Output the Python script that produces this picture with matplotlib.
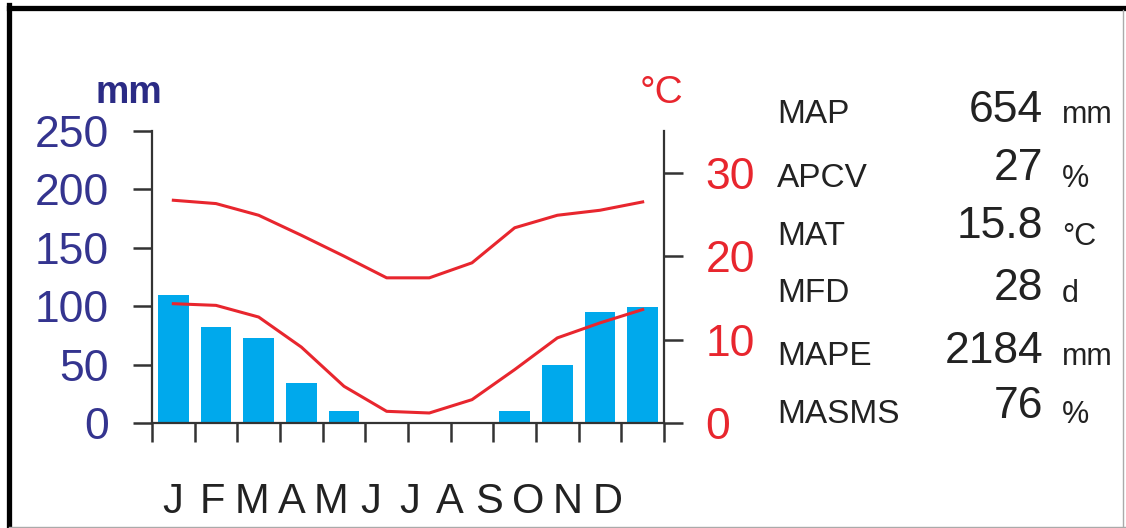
import matplotlib
matplotlib.use("Agg")
from matplotlib import pyplot as plt
from matplotlib.lines import Line2D

months = ["J", "F", "M", "A", "M", "J", "J", "A", "S", "O", "N", "D"]
precip = [110, 82, 73, 34, 10, 0, 0, 0, 10, 50, 95, 99]
tmax = [26.7, 26.3, 24.9, 22.5, 20.0, 17.4, 17.4, 19.2, 23.4, 24.9, 25.5, 26.5]
tmin = [14.3, 14.1, 12.7, 9.1, 4.4, 1.4, 1.2, 2.8, 6.4, 10.2, 12.0, 13.6]

stat_names = ["MAP", "APCV", "MAT", "MFD", "MAPE", "MASMS"]
stat_values = ["654", "27", "15.8", "28", "2184", "76"]
stat_units = ["mm", "%", "°C", "d", "mm", "%"]

W, H = 1126, 528
blue_bar = "#00A9EC"
navy = "#34348F"
red = "#E8262E"
dark = "#333333"

plt.rcParams["font.family"] = ["Liberation Sans", "DejaVu Sans"]

fig = plt.figure(figsize=(W / 100, H / 100), dpi=100)

# frame: heavy black top and left, thin grey right and bottom
def frame_line(xs, ys, color, lw):
    fig.lines.append(Line2D([v / W for v in xs], [1 - v / H for v in ys],
                            transform=fig.transFigure, color=color, lw=lw))

frame_line([9, 1126], [7.5, 7.5], "black", 3.8)
frame_line([9, 9], [5, 528], "black", 3.8)
frame_line([1123, 1123], [10, 528], "#aaaaaa", 1.0)
frame_line([9, 1126], [527, 527], "#aaaaaa", 1.0)

ax = fig.add_axes([152 / W, (H - 423) / H, (664 - 152) / W, (423 - 131) / H])
x = [i + 0.5 for i in range(12)]
ax.bar(x, precip, width=0.72, color=blue_bar, zorder=2)
ax.set_xlim(0, 12)
ax.set_ylim(0, 250)
ax.set_xticks(range(13))
ax.set_xticklabels([])
ax.set_yticks([0, 50, 100, 150, 200, 250])
ax.tick_params(axis="x", direction="out", length=14, width=1.8, color=dark)
ax.tick_params(axis="y", direction="out", length=14, width=1.8, color=dark,
               labelsize=32, labelcolor=navy, pad=17)
for s in ["top", "right"]:
    ax.spines[s].set_visible(False)
for s in ["left", "bottom"]:
    ax.spines[s].set_color(dark)
    ax.spines[s].set_linewidth(1.6)

ax2 = ax.twinx()
ax2.plot(x, tmax, color=red, lw=2.2, zorder=3)
ax2.plot(x, tmin, color=red, lw=2.2, zorder=3)
ax2.set_ylim(0, 35)
ax2.set_yticks([0, 10, 20, 30])
ax2.tick_params(axis="y", direction="out", length=14, width=1.8, color=dark,
                labelsize=32, labelcolor=red, pad=16)
for s in ["top", "left", "bottom"]:
    ax2.spines[s].set_visible(False)
ax2.spines["right"].set_color(dark)
ax2.spines["right"].set_linewidth(1.6)

# month letters
for i, m in enumerate(months):
    ax.text(0.49 + 0.926 * i, -0.27, m, ha="center", va="center",
            fontsize=30, color="#222222",
            family=["Liberation Sans Narrow", "Liberation Sans", "DejaVu Sans"],
            transform=ax.get_xaxis_transform())

# axis unit labels
fig.text(129 / W, 1 - 103 / H, "mm", ha="center", va="baseline",
         fontsize=27, fontweight="bold", color="#2B2B85")
fig.text(661 / W, 1 - 103 / H, "°C", ha="center", va="baseline",
         fontsize=28, color=red)

# statistics
label_base = [123, 187, 245, 302, 365, 423]
value_base = [122, 180, 238, 300, 363, 418]
for i in range(len(stat_names)):
    fig.text(777 / W, 1 - label_base[i] / H, stat_names[i], ha="left",
             va="baseline", fontsize=24, color="#222222")
    fig.text(1043 / W, 1 - value_base[i] / H, stat_values[i], ha="right",
             va="baseline", fontsize=32, color="#222222")
    fig.text(1062 / W, 1 - label_base[i] / H, stat_units[i], ha="left",
             va="baseline", fontsize=22, color="#222222")

fig.savefig("out.png", dpi=100)
